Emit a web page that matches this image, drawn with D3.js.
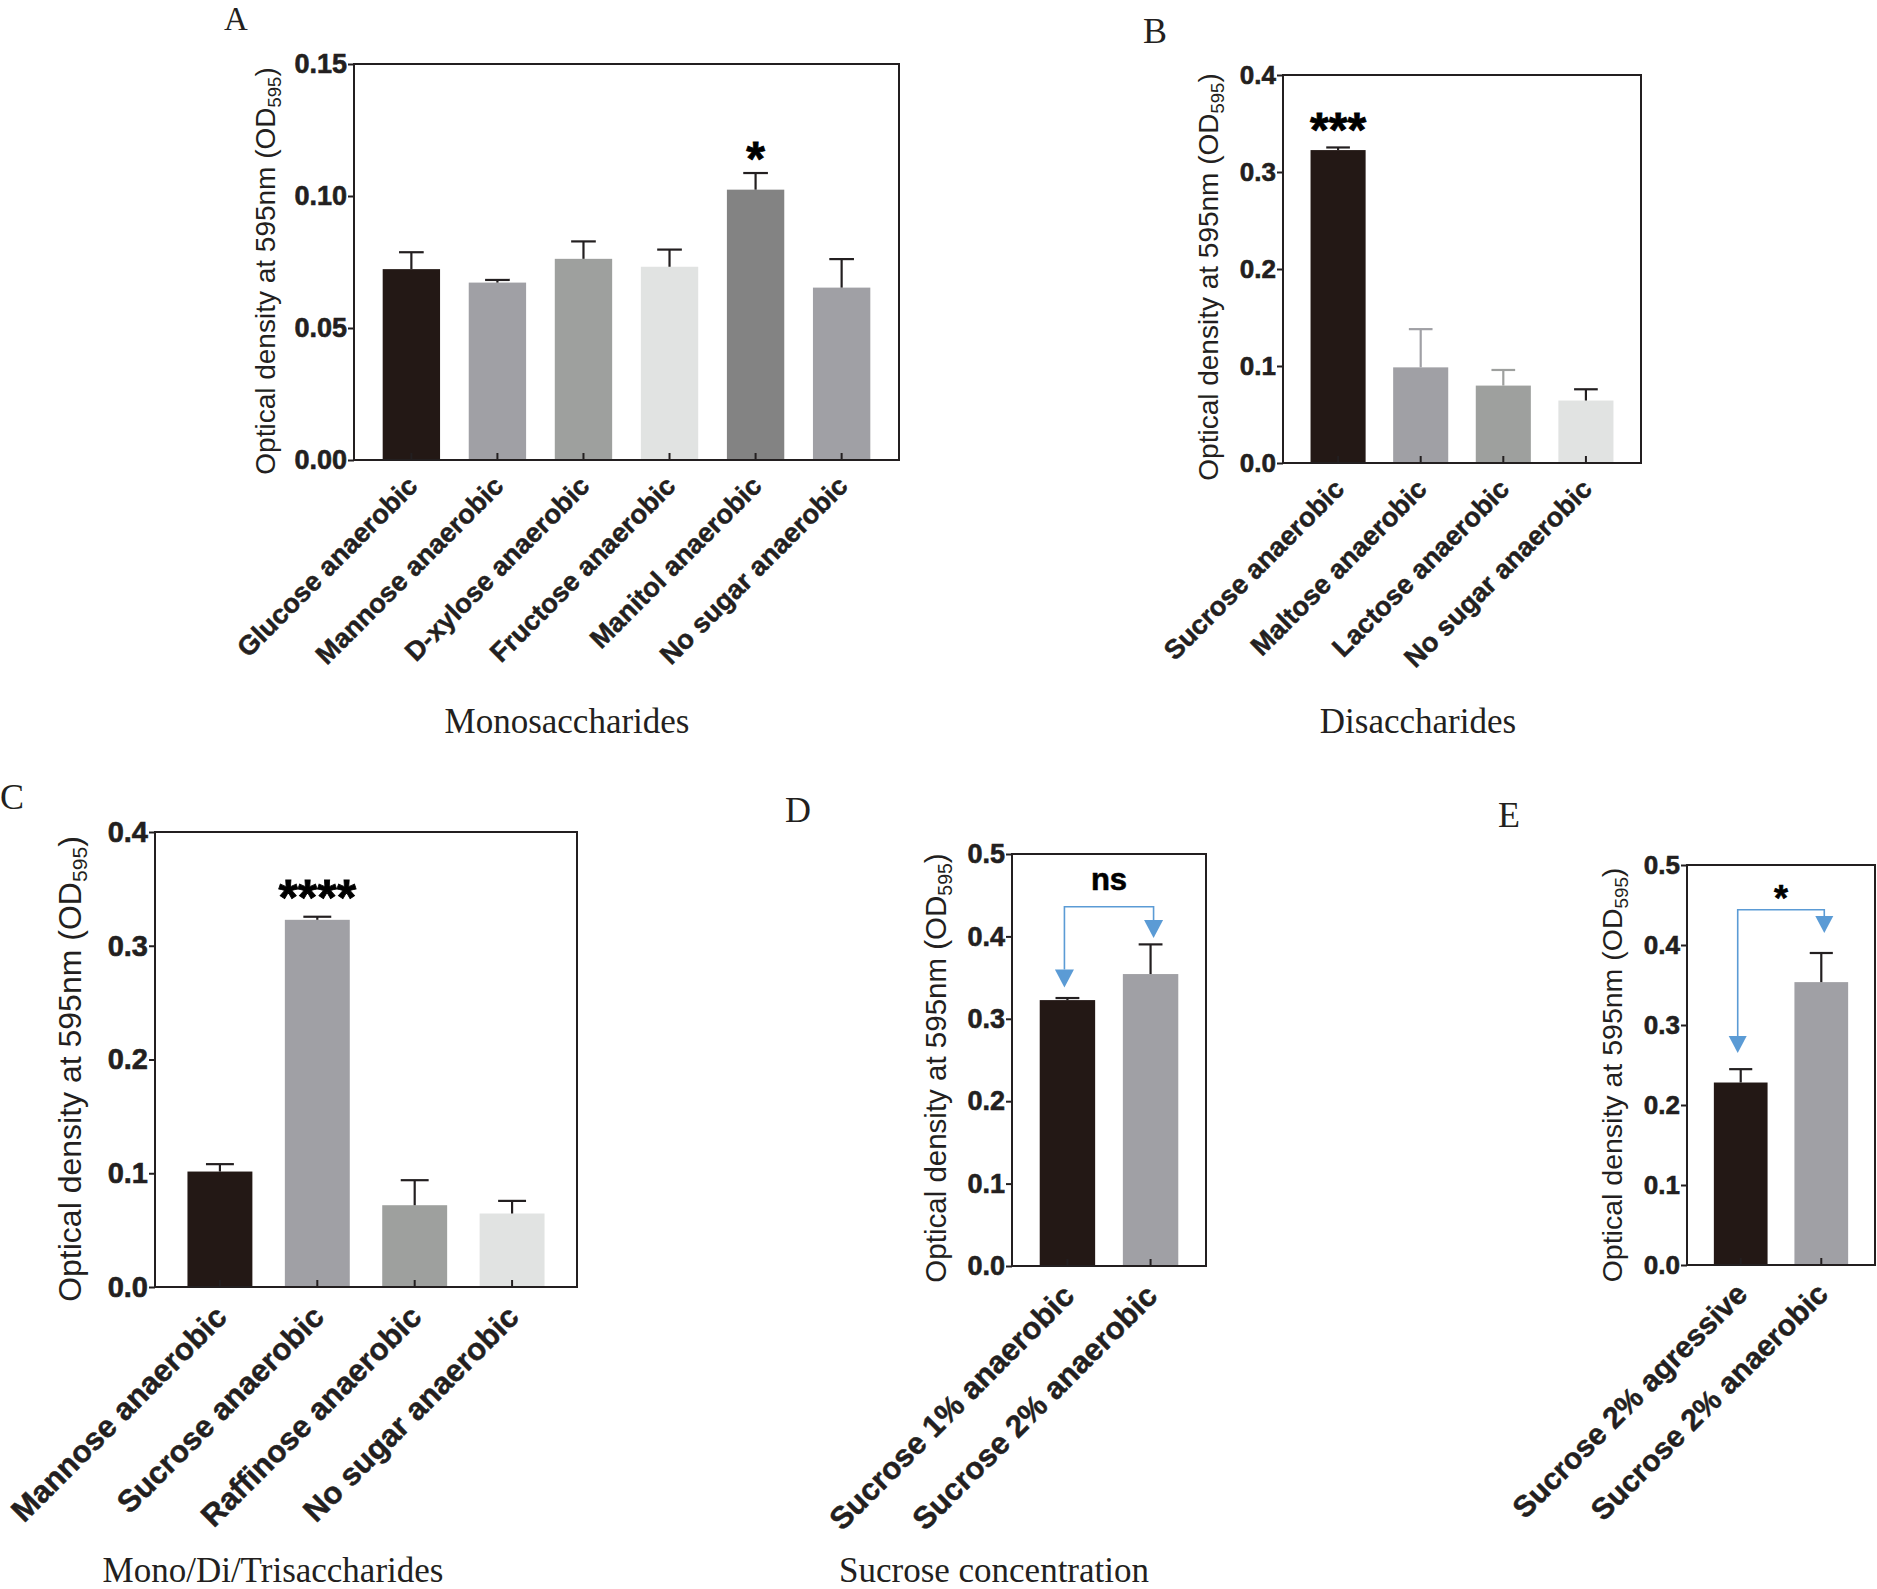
<!DOCTYPE html>
<html><head><meta charset="utf-8">
<script src="https://cdn.jsdelivr.net/npm/d3@7"></script>
<style>body{margin:0;background:#fff}svg{display:block}</style>
</head><body>
<svg id="chart" width="1877" height="1589"></svg>
<script>
// ---------------- DATA ----------------
const catsA = ["Glucose anaerobic","Mannose anaerobic","D-xylose anaerobic","Fructose anaerobic","Manitol anaerobic","No sugar anaerobic"];
const meanA = [0.0723,0.0672,0.0762,0.0732,0.1024,0.0653];
const errA  = [0.0064,0.0010,0.0066,0.0065,0.0063,0.0108];
const ticksA = [0,0.05,0.10,0.15];
const sigA = ["","","","","*",""];
const sigYA = [0,0,0,0,0.1185,0];

const catsB = ["Sucrose anaerobic","Maltose anaerobic","Lactose anaerobic","No sugar anaerobic"];
const meanB = [0.3226,0.0986,0.0798,0.0644];
const errB  = [0.0027,0.0394,0.0161,0.0116];
const ticksB = [0,0.1,0.2,0.3,0.4];
const sigB = ["***","","",""];
const sigYB = [0.3550,0,0,0];

const catsC = ["Mannose anaerobic","Sucrose anaerobic","Raffinose anaerobic","No sugar anaerobic"];
const meanC = [0.1015,0.3228,0.0719,0.0646];
const errC  = [0.0065,0.0027,0.0220,0.0111];
const ticksC = [0,0.1,0.2,0.3,0.4];
const sigC = ["","****","",""];
const sigYC = [0,0.352,0,0];

const catsD = ["Sucrose 1% anaerobic","Sucrose 2% anaerobic"];
const meanD = [0.3227,0.3543];
const errD  = [0.0025,0.0360];
const ticksD = [0,0.1,0.2,0.3,0.4,0.5];
const compLabelD = "ns";
const compLabelYD = 0.4567;      // baseline value
const bracketD = [0.436,0.338,0.398]; // bar level, left tip, right tip

const catsE = ["Sucrose 2% agressive","Sucrose 2% anaerobic"];
const meanE = [0.2281,0.3536];
const errE  = [0.0167,0.0364];
const ticksE = [0,0.1,0.2,0.3,0.4,0.5];
const compLabelE = "*";
const compLabelYE = 0.468;       // centre value
const bracketE = [0.444,0.265,0.415];

const yTitleMain = "Optical density at 595nm (OD";
const yTitleSub = "595";
const groupTitles = ["Monosaccharides","Disaccharides","Mono/Di/Trisaccharides","Sucrose concentration"];
const panelLetters = ["A","B","C","D","E"];

// ---------------- STYLE / LAYOUT ----------------
const INK = "#231f20";
const BLK = "#231815", G1 = "#a0a0a5", G2 = "#9ea09e", G3 = "#e1e3e2", G4 = "#838383";
const BLUE = "#5b9bd5";
const SANS = "'Liberation Sans', Arial, sans-serif";
const SERIF = "'Liberation Serif', 'Times New Roman', serif";

const svg = d3.select("#chart");

function panel(o) {
  const x = d3.scaleBand().domain(o.cats).range([o.x0, o.x1]).paddingInner(1/3).paddingOuter(1/3);
  const y = d3.scaleLinear().domain([0, o.ymax]).range([o.y1, o.y0]);
  const g = svg.append("g");
  const cx = d => x(d) + x.bandwidth()/2;

  // bars
  g.selectAll("rect.bar").data(o.cats).join("rect")
    .attr("x", d => x(d)).attr("width", x.bandwidth())
    .attr("y", (d,i) => y(o.mean[i])).attr("height", (d,i) => y(0) - y(o.mean[i]))
    .attr("fill", (d,i) => o.colors[i]);

  // error bars (upper only)
  const cap = x.bandwidth()*0.43;
  o.cats.forEach((d,i) => {
    const c = o.errColors[i];
    g.append("line").attr("x1", cx(d)).attr("x2", cx(d))
      .attr("y1", y(o.mean[i])).attr("y2", y(o.mean[i] + o.err[i]))
      .attr("stroke", c).attr("stroke-width", 2.2);
    g.append("line").attr("x1", cx(d) - cap/2).attr("x2", cx(d) + cap/2)
      .attr("y1", y(o.mean[i] + o.err[i])).attr("y2", y(o.mean[i] + o.err[i]))
      .attr("stroke", c).attr("stroke-width", 2.2);
  });

  // x ticks (inward)
  const xa = g.append("g").attr("transform", `translate(0,${o.y1})`)
    .call(d3.axisBottom(x).tickSize(-7).tickFormat(""));
  xa.select(".domain").remove();
  xa.selectAll("line").attr("stroke", INK).attr("stroke-width", 2);

  // frame
  g.append("rect").attr("x", o.x0).attr("y", o.y0)
    .attr("width", o.x1 - o.x0).attr("height", o.y1 - o.y0)
    .attr("fill", "none").attr("stroke", INK).attr("stroke-width", 2);

  // y axis
  const ya = g.append("g").attr("transform", `translate(${o.x0},0)`)
    .call(d3.axisLeft(y).tickValues(o.ticks).tickFormat(d3.format(o.fmt)).tickSize(6).tickPadding(1));
  ya.select(".domain").remove();
  ya.selectAll("line").attr("stroke", INK).attr("stroke-width", 2);
  ya.selectAll("text").attr("font-family", SANS).attr("font-weight", "bold")
    .attr("font-size", o.tickFs).attr("fill", INK)
    .attr("stroke", INK).attr("stroke-width", 0.6);

  // x labels
  g.selectAll("text.xl").data(o.cats).join("text")
    .attr("transform", d => `translate(${cx(d) + 1},${o.y1 + 0.78*o.xlFs}) rotate(-45)`)
    .attr("text-anchor", "end").attr("dy", "0.35em")
    .attr("font-family", SANS).attr("font-weight", "bold").attr("font-size", o.xlFs)
    .attr("fill", INK).attr("stroke", INK).attr("stroke-width", 0.5).text(d => d);

  // y title
  const t = g.append("text")
    .attr("transform", `translate(${o.ytX},${o.ytY}) rotate(-90)`)
    .attr("text-anchor", "middle").attr("font-family", SANS).attr("font-size", o.ytFs).attr("fill", INK);
  t.append("tspan").text(yTitleMain);
  t.append("tspan").attr("font-size", o.ytFs*0.66).attr("dy", o.ytFs*0.2).text(yTitleSub);
  t.append("tspan").attr("dy", -o.ytFs*0.2).text(")");

  // significance above bars
  if (o.sig) {
    o.cats.forEach((d,i) => {
      if (!o.sig[i]) return;
      g.append("text").attr("x", cx(d)).attr("y", y(o.sigY[i]) + 0.575*o.sigFs)
        .attr("text-anchor", "middle").attr("font-family", SANS).attr("font-weight", "bold")
        .attr("font-size", o.sigFs).attr("fill", "#000").attr("stroke", "#000").attr("stroke-width", 0.8)
        .text(o.sig[i]);
    });
  }

  // comparison bracket
  if (o.bracket) {
    const [lvl, lt, rt] = o.bracket;
    const xl = cx(o.cats[0]) - 3, xr = cx(o.cats[1]) + 3;
    const th = o.triH, tw = o.triW;
    g.append("path")
      .attr("d", `M${xl},${y(lt) - th} V${y(lvl)} H${xr} V${y(rt) - th}`)
      .attr("fill", "none").attr("stroke", BLUE).attr("stroke-width", 1.6);
    [[xl, lt], [xr, rt]].forEach(([px, v]) => {
      const ty = y(v);
      g.append("path").attr("d", `M${px - tw/2},${ty - th} L${px + tw/2},${ty - th} L${px},${ty} Z`)
        .attr("fill", BLUE);
    });
    if (o.compLabel) {
      const ly = o.compIsCentre ? y(o.compY) + 0.575*o.compFs : y(o.compY);
      g.append("text").attr("x", (o.x0 + o.x1)/2).attr("y", ly)
        .attr("text-anchor", "middle").attr("font-family", SANS).attr("font-weight", "bold")
        .attr("font-size", o.compFs).attr("fill", "#000").attr("stroke", "#000").attr("stroke-width", 0.6)
        .text(o.compLabel);
    }
  }
}

// Panel A
panel({cats: catsA, mean: meanA, err: errA, ticks: ticksA, fmt: ".2f", ymax: 0.15,
  x0: 354, x1: 899, y0: 64, y1: 460,
  colors: [BLK, G1, G2, G3, G4, G1], errColors: [INK, INK, INK, INK, INK, INK],
  tickFs: 27, xlFs: 27, ytFs: 28, ytX: 275, ytY: 271,
  sig: sigA, sigY: sigYA, sigFs: 48});
// Panel B
panel({cats: catsB, mean: meanB, err: errB, ticks: ticksB, fmt: ".1f", ymax: 0.4,
  x0: 1283, x1: 1641, y0: 75, y1: 463,
  colors: [BLK, G1, G2, G3], errColors: [INK, G1, G2, INK],
  tickFs: 26, xlFs: 27, ytFs: 28, ytX: 1218, ytY: 277,
  sig: sigB, sigY: sigYB, sigFs: 48});
// Panel C
panel({cats: catsC, mean: meanC, err: errC, ticks: ticksC, fmt: ".1f", ymax: 0.4,
  x0: 155, x1: 577, y0: 832, y1: 1287,
  colors: [BLK, G1, G2, G3], errColors: [INK, INK, INK, INK],
  tickFs: 29, xlFs: 31, ytFs: 32, ytX: 81, ytY: 1069,
  sig: sigC, sigY: sigYC, sigFs: 50});
// Panel D
panel({cats: catsD, mean: meanD, err: errD, ticks: ticksD, fmt: ".1f", ymax: 0.5,
  x0: 1012, x1: 1206, y0: 854, y1: 1266,
  colors: [BLK, G1], errColors: [INK, INK],
  tickFs: 27, xlFs: 31, ytFs: 29.5, ytX: 946, ytY: 1068,
  bracket: bracketD, triW: 19, triH: 18,
  compLabel: compLabelD, compY: compLabelYD, compIsCentre: false, compFs: 31});
// Panel E
panel({cats: catsE, mean: meanE, err: errE, ticks: ticksE, fmt: ".1f", ymax: 0.5,
  x0: 1687, x1: 1875, y0: 865, y1: 1265,
  colors: [BLK, G1], errColors: [INK, INK],
  tickFs: 26, xlFs: 30, ytFs: 28.5, ytX: 1622, ytY: 1075,
  bracket: bracketE, triW: 18, triH: 17,
  compLabel: compLabelE, compY: compLabelYE, compIsCentre: true, compFs: 36});

// group titles
const gtPos = [[567, 733], [1418, 733], [273, 1582], [994, 1582]];
svg.selectAll("text.gt").data(groupTitles).join("text")
  .attr("x", (d,i) => gtPos[i][0]).attr("y", (d,i) => gtPos[i][1])
  .attr("text-anchor", "middle").attr("font-family", SERIF).attr("font-size", 35)
  .attr("fill", INK).text(d => d);

// panel letters
const plPos = [[236, 30], [1155, 43], [12, 809], [798, 822], [1509, 827]];
const plFs = [33, 36, 36, 36, 36];
svg.selectAll("text.pl").data(panelLetters).join("text")
  .attr("x", (d,i) => plPos[i][0]).attr("y", (d,i) => plPos[i][1])
  .attr("text-anchor", "middle").attr("font-family", SERIF).attr("font-size", (d,i) => plFs[i])
  .attr("fill", INK).text(d => d);
</script>
</body></html>
